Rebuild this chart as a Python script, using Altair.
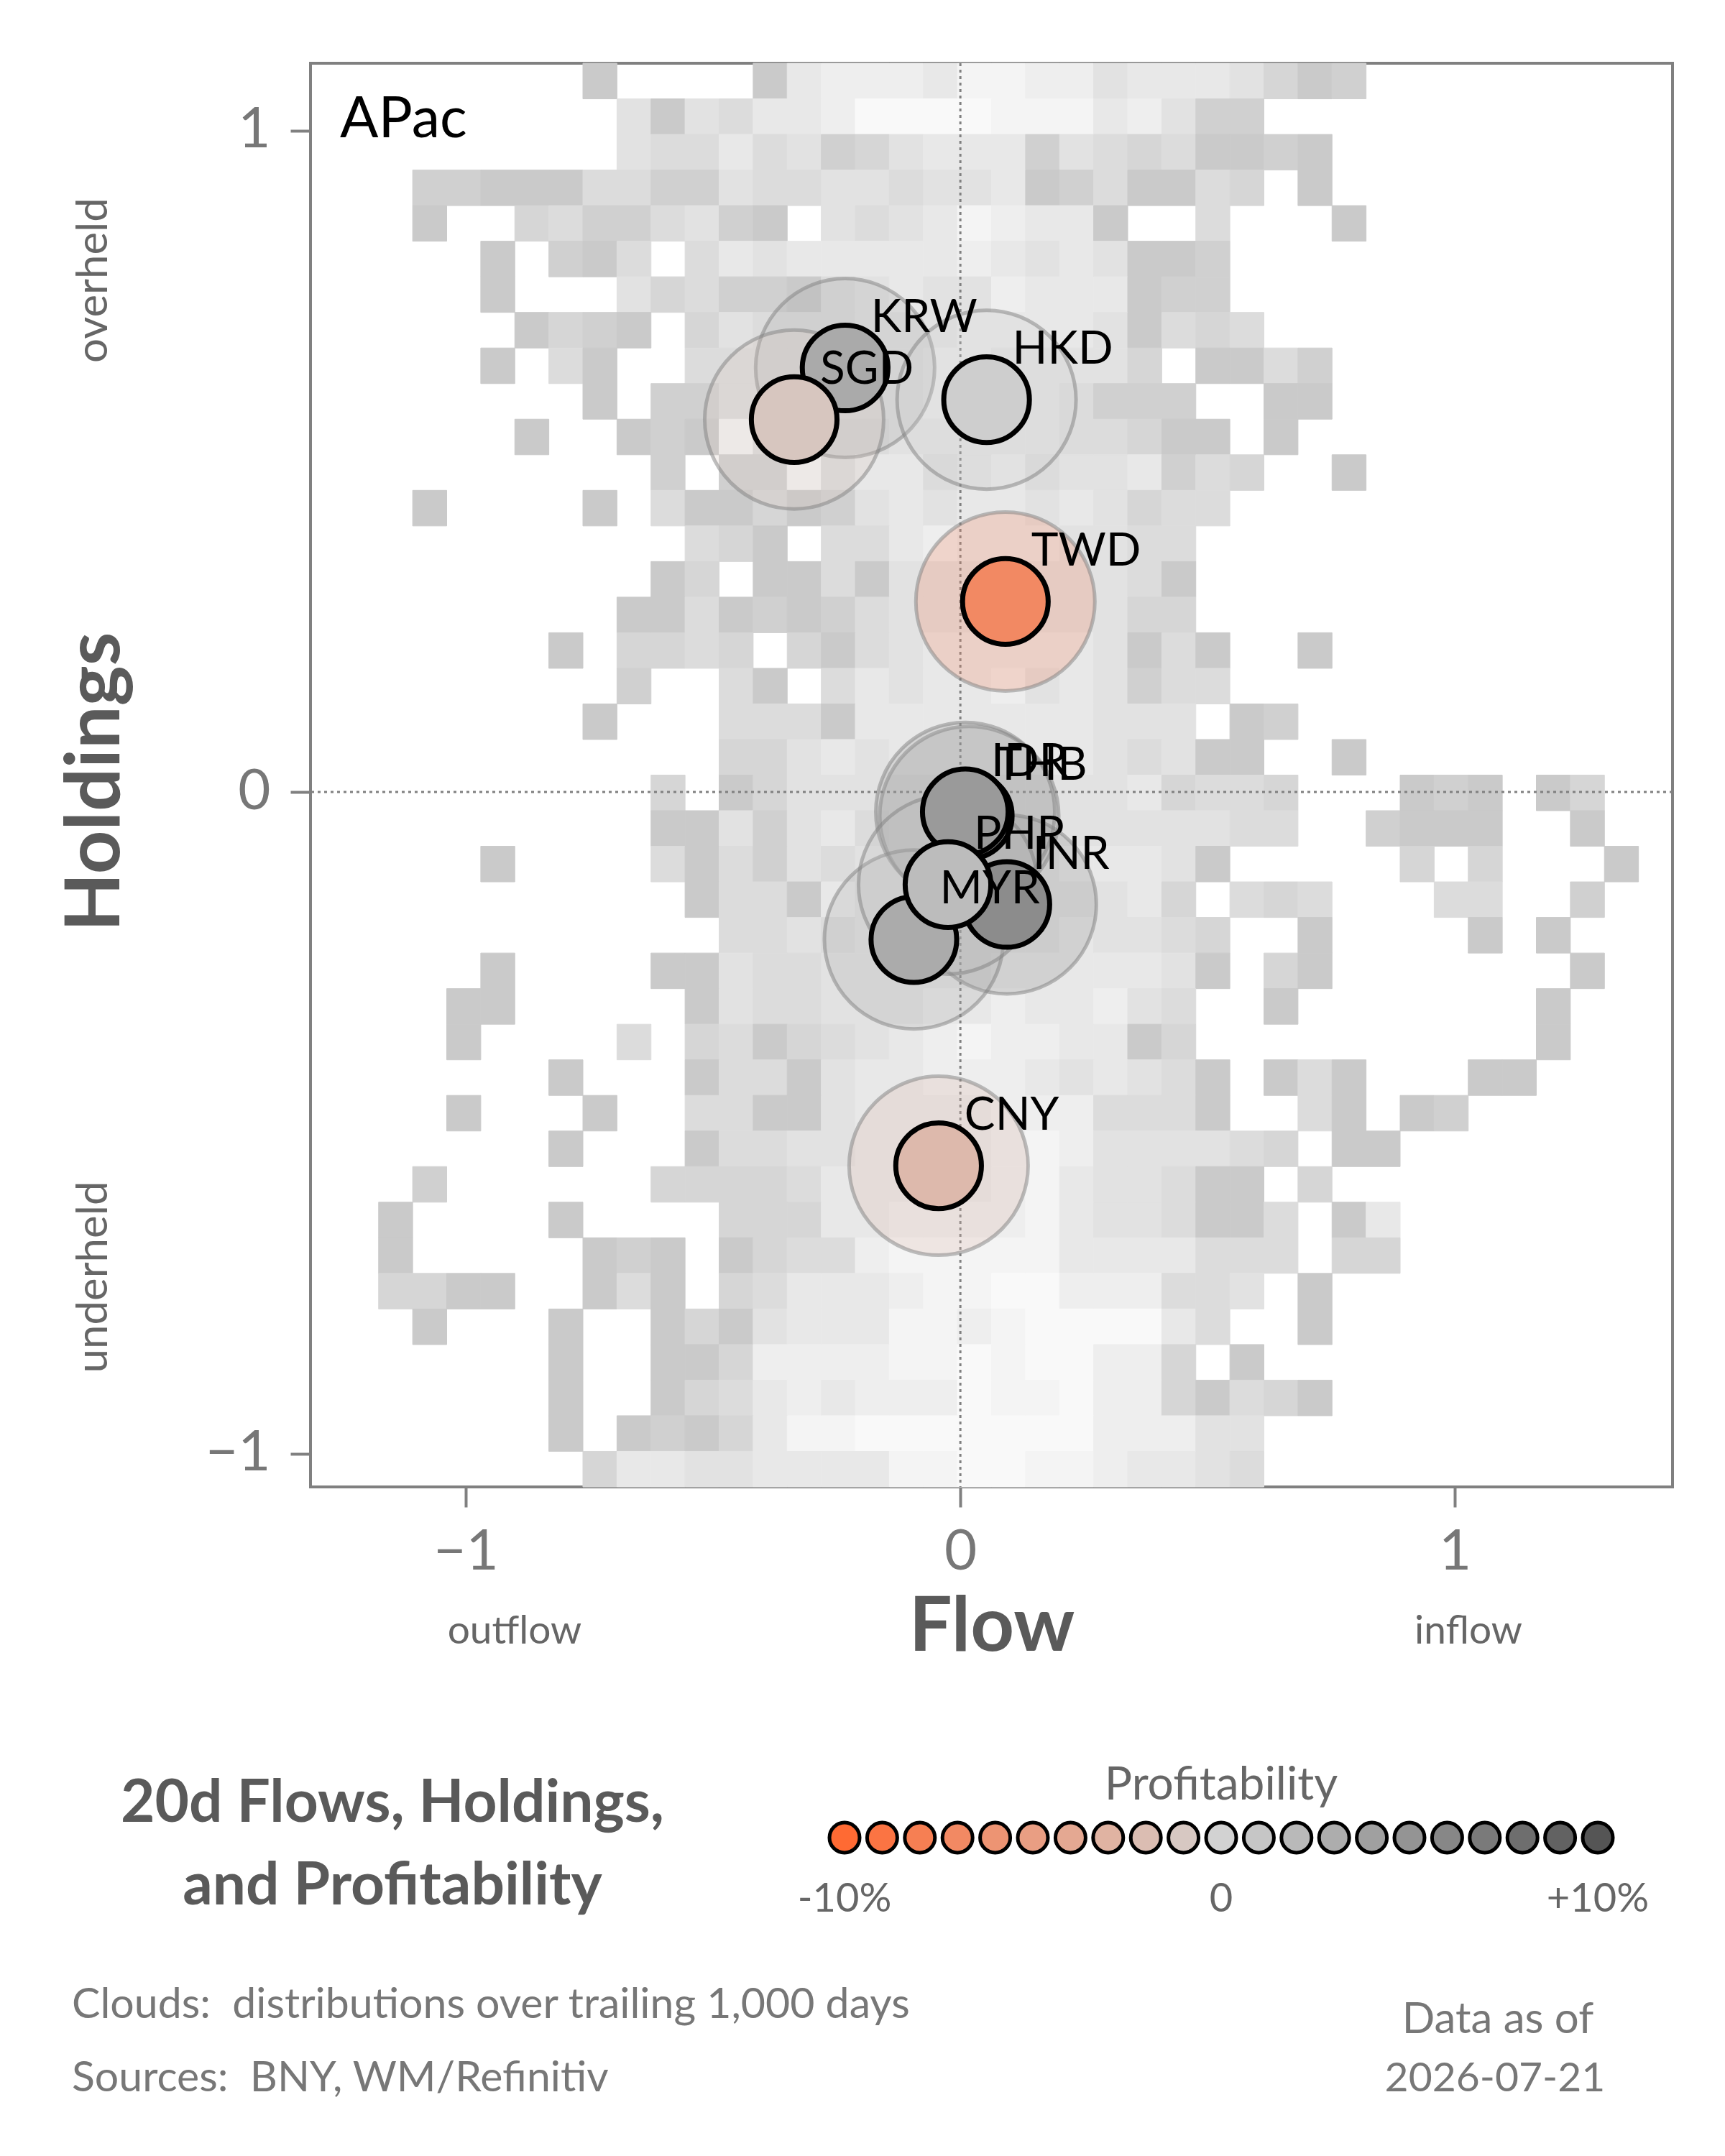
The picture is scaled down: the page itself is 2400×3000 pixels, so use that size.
import altair as alt
import pandas as pd
import numpy as np

FONT = "Lato"
NB_SP = "\u00a0"

# ---------------- data ----------------
currencies = ["KRW", "SGD", "HKD", "TWD", "THB", "IDR", "INR", "MYR", "PHP", "CNY"]
flow = [-0.233, -0.336, 0.053, 0.091, 0.018, 0.010, 0.094, -0.094, -0.025, -0.044]
holdings = [0.641, 0.563, 0.593, 0.288, -0.036, -0.030, -0.170, -0.223, -0.140, -0.565]
profit = [3.2, -1.2, 0.3, -7.0, 4.8, 4.5, 5.6, 3.1, 1.8, -2.4]

legend_profit = [-10, -9, -8, -7, -6, -5, -4, -3, -2, -1, 0,
                 1, 2, 3, 4, 5, 6, 7, 8, 9, 10]
legend_label_vals = [-10, 0, 10]
legend_labels = ["-10%", "0", "+10%"]

x_ticks = [-1, 0, 1]
y_ticks = [-1, 0, 1]

# cloud density levels (0 = empty, 1 = sparse/darker ... 9 = dense/lighter), rows top -> bottom
cloud_rows = [
    "0000000010 0001677768 8775666531 2000000000",
    "0000000005 1546679999 8886752200 0000000000",
    "0000000005 4464523566 6254341121 0000000000",
    "0002211144 2254455455 6124114301 0000000000",
    "0001003422 4521054568 7661004000 1000000000",
    "0000010214 0465666667 6565112000 0000000000",
    "0000010005 3422145655 7666122000 0000000000",
    "0000001321 0354445556 6665143400 0000000000",
    "0000010410 0444445566 5555301142 0000000000",
    "0000000010 2244455566 5542220011 0000000000",
    "0000001001 2184444555 5544311010 0000000000",
    "0000000000 2022846645 6455624300 1000000000",
    "0001000010 4113125656 6565344000 0000000000",
    "0000000000 0431044676 6655440000 0000000000",
    "0000000000 1301141555 5555410000 0000000000",
    "0000000001 1412124555 5555330000 0000000000",
    "0000000103 3430314566 6665141001 0000000000",
    "0000000002 0041046566 7565244000 0000000000",
    "0000000010 0044416666 6665550120 0000000000",
    "0000000000 0033565666 6665451100 1000000000",
    "0000000000 3013555555 5555634430 0012101300",
    "0000000000 1152564555 5555555440 0211100100",
    "0000010000 4142545555 5566651000 0030300010",
    "0000000000 0144165555 5555630434 0004400200",
    "0000000000 0044545555 5565543001 0000101000",
    "0000010000 1154455555 6666651031 0000000100",
    "0000110000 0154455566 7667540010 0000001000",
    "0000100004 0341345678 7766130000 0000001000",
    "0000000100 0144156677 7656541014 1000110000",
    "0000100010 0441156666 7774441004 1012000000",
    "0000000100 0144556666 7875555430 1100000000",
    "0002000000 3333466666 7865541103 0000000000",
    "0010000100 0033366777 7865541140 1600000000",
    "0010000012 1013447888 8866664440 3300000000",
    "0033110014 1034666788 9977744501 0000000000",
    "0001000100 1315666887 8999964001 0000000000",
    "0000000100 1137777889 8997730100 0000000000",
    "0000000100 1346767779 8897731431 0000000000",
    "0000000101 2136889999 9997775500 0000000000",
    "0000000036 6556666889 9887665400 0000000000",
]
cloud_levels = [1, 2, 3, 4, 5, 6, 7, 8, 9]
cloud_greys = ["#cacaca", "#d0d0d0", "#d6d6d6", "#dcdcdc", "#e2e2e2",
               "#e8e8e8", "#eeeeee", "#f4f4f4", "#f9f9f9"]

# ---------------- geometry ----------------
W, H = 1895, 1981
PAD = {"left": 432, "top": 88, "right": 73, "bottom": 931}
X_DOM = [-1.314, 1.440]
Y_DOM = [-1.0505, 1.1016]

NB = len(cloud_rows)
xe = np.linspace(X_DOM[0], X_DOM[1], NB + 1)
ye = np.linspace(Y_DOM[1], Y_DOM[0], NB + 1)
recs = []
for r, row in enumerate(cloud_rows):
    s = row.replace(" ", "")
    for c, ch in enumerate(s[:NB]):
        if ch != "0":
            recs.append({"x": xe[c], "x2": xe[c + 1], "y": ye[r + 1], "y2": ye[r], "level": int(ch)})
cloud = pd.DataFrame(recs)

xs = alt.Scale(domain=X_DOM, nice=False, zero=False)
ys = alt.Scale(domain=Y_DOM, nice=False, zero=False)
pscale = alt.Scale(domain=[-10, 0, 10], range=["#ff6a33", "#d2d2d2", "#555555"], interpolate="rgb")
gscale = alt.Scale(domain=cloud_levels, range=cloud_greys)

axis_common = dict(domain=False, grid=False, tickSize=28, tickWidth=4, tickColor="#808080",
                   labelFontSize=78, labelColor="#777777", labelFont=FONT, title=None, format="d")
x_axis = alt.Axis(values=x_ticks, labelPadding=24, **axis_common)
y_axis = alt.Axis(values=y_ticks, labelPadding=28, **axis_common)

heat = alt.Chart(cloud).mark_rect(strokeWidth=1).encode(
    x=alt.X("x:Q", scale=xs, axis=x_axis),
    x2="x2:Q",
    y=alt.Y("y:Q", scale=ys, axis=y_axis),
    y2="y2:Q",
    color=alt.Color("level:O", scale=gscale, legend=None),
    stroke=alt.Stroke("level:O", scale=gscale, legend=None),
)

zero_df = pd.DataFrame({"v": [0]})
zx = alt.Chart(zero_df).mark_rule(color="#808080", strokeWidth=3, strokeDash=[4, 5]).encode(
    x=alt.X("v:Q", scale=xs, axis=None))
zy = alt.Chart(zero_df).mark_rule(color="#808080", strokeWidth=3, strokeDash=[4, 5]).encode(
    y=alt.Y("v:Q", scale=ys, axis=y_axis))

cdf = pd.DataFrame({"ccy": currencies, "flow": flow, "hold": holdings, "profit": profit})
base = alt.Chart(cdf).encode(
    x=alt.X("flow:Q", scale=xs, axis=None),
    y=alt.Y("hold:Q", scale=ys, axis=y_axis),
)
# symbol size = area of bounding square: (2r)^2
outer = base.mark_circle(size=62000, opacity=1, fillOpacity=0.25, stroke="#808080",
                         strokeOpacity=0.5, strokeWidth=5).encode(
    fill=alt.Fill("profit:Q", scale=pscale, legend=None))
inner = base.mark_circle(size=14200, opacity=1, stroke="black", strokeWidth=7).encode(
    fill=alt.Fill("profit:Q", scale=pscale, legend=None))
labels = base.mark_text(align="left", baseline="alphabetic", dx=36, dy=-50, fontSize=64,
                        font=FONT, color="black").encode(text="ccy:N")

# legend
lx = alt.Scale(domain=[-10, 10], range=[743, 1791], nice=False, zero=False)
leg = alt.Chart(pd.DataFrame({"p": legend_profit})).mark_circle(
    size=1764, opacity=1, stroke="black", strokeWidth=5).encode(
    x=alt.X("p:Q", scale=lx, axis=None), y=alt.value(2469),
    fill=alt.Fill("p:Q", scale=pscale, legend=None))
leg_text = alt.Chart(pd.DataFrame({"p": legend_label_vals, "t": legend_labels})).mark_text(
    fontSize=56, font=FONT, color="#666666", baseline="alphabetic", align="center").encode(
    x=alt.X("p:Q", scale=lx, axis=None), y=alt.value(2572), text="t:N")


def txt(s, x, y, size, color="#666666", weight="normal", align="center", angle=0):
    return alt.Chart(pd.DataFrame({"t": [s]})).mark_text(
        fontSize=size, font=FONT, color=color, fontWeight=weight, align=align,
        baseline="alphabetic", angle=angle).encode(text="t:N", x=alt.value(x), y=alt.value(y))


texts = [
    txt("APac", 41, 103, 79, color="black", align="left"),
    txt("Flow", 948, 2209, 106, color="#5a5a5a", weight="bold"),
    txt("outflow", 284, 2199, 55, color="#666666"),
    txt("inflow", 1611, 2199, 55, color="#666666"),
    txt("Holdings", -266, 1000, 106, color="#5a5a5a", weight="bold", angle=270),
    txt("overheld", -283, 302, 60, color="#666666", angle=270),
    txt("underheld", -283, 1689, 60, color="#666666", angle=270),
    txt("20d Flows, Holdings,", 114, 2447, 82, color="#5a5a5a", weight="bold"),
    txt("and Profitability", 114, 2562, 82, color="#5a5a5a", weight="bold"),
    txt("Profitability", 1267, 2416, 64, color="#666666"),
    txt("Clouds:" + NB_SP + " distributions over trailing 1,000 days", -332, 2720, 59,
        color="#777777", align="left"),
    txt("Sources:" + NB_SP + " BNY, WM/Refinitiv", -332, 2822, 59, color="#777777", align="left"),
    txt("Data as of", 1652, 2741, 60, color="#777777"),
    txt("2026-07-21", 1648, 2822, 57, color="#777777"),
]

chart = alt.layer(heat, zx, zy, outer, inner, labels, leg, leg_text, *texts).resolve_scale(
    x="independent"
).properties(
    width=W, height=H,
    autosize=alt.AutoSizeParams(type="none"),
    padding=PAD,
    background="white",
).configure_view(stroke="#808080", strokeWidth=4)

chart.save("out.html", embed_options={"renderer": "svg", "actions": False})
